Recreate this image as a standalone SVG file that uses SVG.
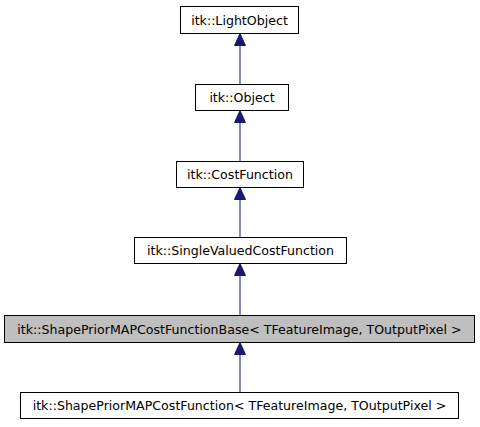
<svg xmlns="http://www.w3.org/2000/svg" width="480" height="427" viewBox="0 0 480 427">
<style>
.box{fill:#ffffff;stroke:#000000;stroke-width:1}
.cur{fill:#bfbfbf;stroke:#000000;stroke-width:1}
text{font-family:"DejaVu Sans",sans-serif;font-size:12.6px;text-anchor:middle;fill:#000000}
.edge{stroke:#191970;stroke-width:1;fill:none}
.head{fill:#191970;stroke:#191970;stroke-width:1}
</style>
<rect width="480" height="427" fill="#ffffff"/>
<g id="connectors">
<line class="edge" x1="240" y1="84.5" x2="240" y2="45"/>
<polygon class="head" points="240,33.5 245.5,45.5 234.5,45.5"/>
<line class="edge" x1="240" y1="161.5" x2="240" y2="122"/>
<polygon class="head" points="240,110.5 245.5,122.5 234.5,122.5"/>
<line class="edge" x1="240" y1="237.5" x2="240" y2="199"/>
<polygon class="head" points="240,187.5 245.5,199.5 234.5,199.5"/>
<line class="edge" x1="240" y1="315.5" x2="240" y2="275"/>
<polygon class="head" points="240,263.5 245.5,275.5 234.5,275.5"/>
<line class="edge" x1="240" y1="392.5" x2="240" y2="354"/>
<polygon class="head" points="240,342.5 245.5,354.5 234.5,354.5"/>
</g>
<g id="node1"><rect class="box" x="180.5" y="6.5" width="118" height="27"/><text x="239.5" y="24.5">itk::LightObject</text></g>
<g id="node2"><rect class="box" x="195.5" y="84.5" width="93" height="26"/><text x="242" y="102">itk::Object</text></g>
<g id="node3"><rect class="box" x="176.5" y="161.5" width="127" height="26"/><text x="240" y="179">itk::CostFunction</text></g>
<g id="node4"><rect class="box" x="134.5" y="237.5" width="212" height="26"/><text x="240.5" y="255">itk::SingleValuedCostFunction</text></g>
<g id="node5"><rect class="cur" x="4.5" y="315.5" width="470" height="27"/><text x="239.5" y="333.5">itk::ShapePriorMAPCostFunctionBase&lt; TFeatureImage, TOutputPixel &gt;</text></g>
<g id="node6"><rect class="box" x="20.5" y="392.5" width="438" height="26"/><text x="239.5" y="410">itk::ShapePriorMAPCostFunction&lt; TFeatureImage, TOutputPixel &gt;</text></g>
</svg>
